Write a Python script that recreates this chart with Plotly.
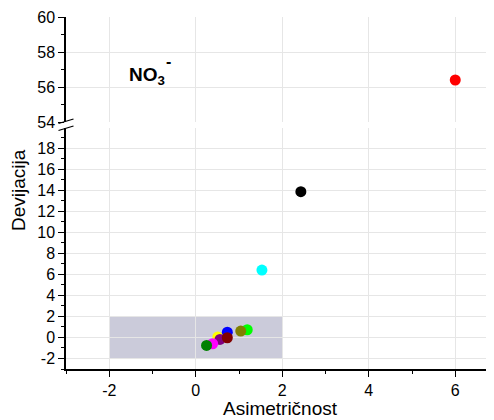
import plotly.graph_objects as go

# ---- data ----
asimetricnost = [0.51, 0.73, 0.56, 0.73, 0.39, 0.25, 1.19, 1.04, 1.53, 2.43, 6.0]
devijacija = [0.05, 0.5, -0.19, -0.03, -0.6, -0.76, 0.73, 0.6, 6.4, 13.85, 56.4]
boje = ["#ffff00", "#0000ff", "#800080", "#800000", "#ff00ff", "#008000",
        "#00ff00", "#808000", "#00ffff", "#000000", "#ff0000"]
box_x = [-2, 2]
box_y = [-2, 2]
x_ticks = [-2, 0, 2, 4, 6]
y_low_ticks = list(range(-2, 19, 2))
y_up_ticks = [54, 56, 58, 60]
BREAK = 50

OFF = 8  # page body margin
W, H = 494 - OFF, 420 - OFF
L = 66 - OFF
B = H - (369 - OFF)
T, R = 0, 0
PH = H - B - T
PW = W - L - R


def px(xs):
    return (xs - OFF - L) / PW


def py(ys):
    return (H - B - (ys - OFF)) / PH


def lab(v):
    return str(v).replace("\u2212", "-")


lo = [(a, d, c) for a, d, c in zip(asimetricnost, devijacija, boje) if d < BREAK]
hi = [(a, d, c) for a, d, c in zip(asimetricnost, devijacija, boje) if d >= BREAK]

fig = go.Figure()
fig.add_trace(go.Scatter(
    x=[p[0] for p in lo], y=[p[1] for p in lo], mode="markers",
    marker=dict(size=11, color=[p[2] for p in lo], line=dict(width=0)),
    xaxis="x", yaxis="y", showlegend=False))
fig.add_trace(go.Scatter(
    x=[p[0] for p in hi], y=[p[1] for p in hi], mode="markers",
    marker=dict(size=11, color=[p[2] for p in hi], line=dict(width=0)),
    xaxis="x", yaxis="y2", showlegend=False))

font = "Liberation Sans, Arial, sans-serif"
grid = "#e6e6e6"

fig.add_shape(type="rect", xref="x", yref="y", x0=box_x[0], x1=box_x[1],
              y0=box_y[0], y1=box_y[1], fillcolor="rgb(203,203,218)",
              line=dict(width=0), layer="below")

# axis break marks
for y0 in (123.5, 130.5):
    fig.add_shape(type="line", xref="paper", yref="paper",
                  x0=px(58.5), x1=px(73.5), y0=py(y0), y1=py(y0 - 4.5),
                  line=dict(color="black", width=1.3))

common = dict(ticks="outside", ticklen=6, tickwidth=1.3, tickcolor="black",
              showgrid=True, gridcolor=grid, gridwidth=1, zeroline=False,
              tickfont=dict(size=16, color="black"), automargin=False,
              showline=True, linecolor="black")

x_end = -3 + (494 - 66) / 43.25

fig.update_layout(
    width=W, height=H,
    margin=dict(l=L, r=R, t=T, b=B, pad=0, autoexpand=False),
    paper_bgcolor="white", plot_bgcolor="white",
    font=dict(family=font, size=16, color="black"),
    xaxis=dict(range=[-3, x_end], domain=[0, 1], anchor="y",
               tickvals=x_ticks, ticktext=[lab(v) for v in x_ticks],
               minor=dict(dtick=1, tick0=-3, ticks="outside", ticklen=3, tickcolor="black", showgrid=False),
               linewidth=2, **common),
    yaxis=dict(range=[-3, 19.9], domain=[0, py(128)], anchor="x",
               tickvals=y_low_ticks, ticktext=[lab(v) for v in y_low_ticks],
               minor=dict(dtick=1, tick0=-3, ticks="outside", ticklen=3, tickcolor="black", showgrid=False),
               linewidth=1.5, **common),
    yaxis2=dict(range=[54, 60], domain=[py(122), py(17)], anchor="x",
                tickvals=y_up_ticks, ticktext=[lab(v) for v in y_up_ticks],
                minor=dict(dtick=1, tick0=54, ticks="outside", ticklen=3, tickcolor="black", showgrid=False),
                linewidth=1.5, **common),
)

fig.add_annotation(text="Devijacija", xref="paper", yref="paper",
                   x=px(18), y=py(190), textangle=-90, showarrow=False,
                   font=dict(size=19, family=font), xanchor="center", yanchor="middle")
fig.add_annotation(text="Asimetričnost", xref="paper", yref="paper",
                   x=px(280), y=py(408), showarrow=False,
                   font=dict(size=19, family=font), xanchor="center", yanchor="middle")
fig.add_annotation(text="<b>NO<sub>3</sub></b>", xref="paper", yref="paper",
                   x=px(127), y=py(76), showarrow=False, xanchor="left", yanchor="middle",
                   font=dict(size=19, family=font))
fig.add_annotation(text="<b>-</b>", xref="paper", yref="paper",
                   x=px(168), y=py(61), showarrow=False, xanchor="center", yanchor="middle",
                   font=dict(size=16, family=font))

fig.write_html("out.html")
